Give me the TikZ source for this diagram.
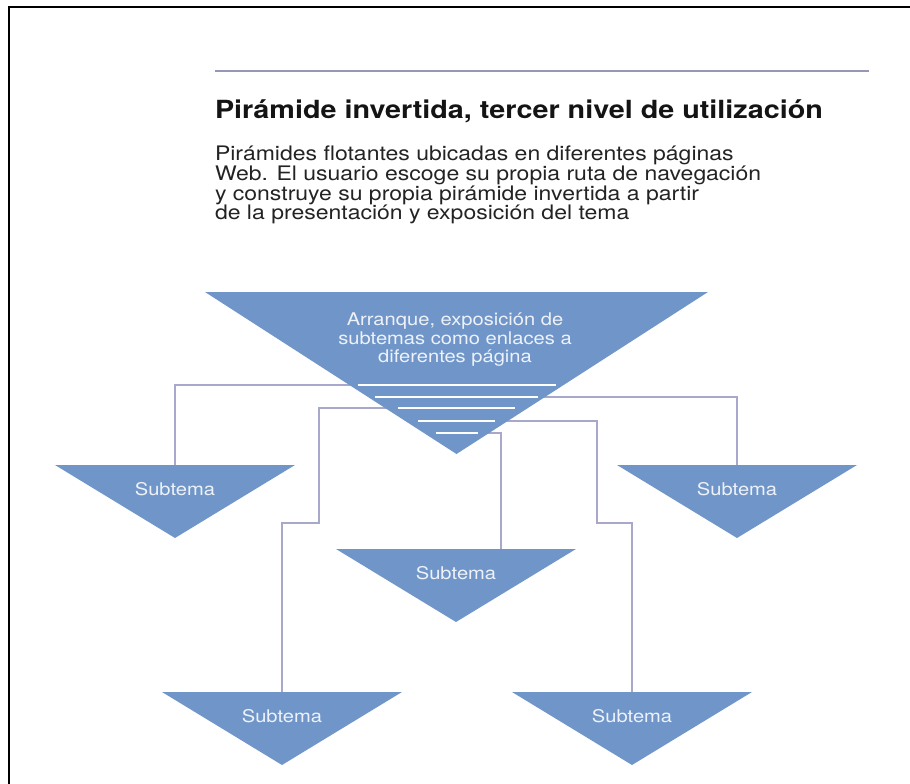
\documentclass[tikz,border=0pt]{standalone}
\usepackage{fontspec}
\setmainfont{TeX Gyre Heros}[FakeStretch=1.15]
\usetikzlibrary{positioning}
\definecolor{pyrblue}{RGB}{112,150,201}
\definecolor{linkgray}{RGB}{168,168,202}
\definecolor{rulegray}{RGB}{150,150,182}
\definecolor{paletext}{RGB}{238,242,248}
\definecolor{bodytext}{RGB}{35,35,35}
\pgfdeclarelayer{bg}
\pgfsetlayers{bg,main}

\begin{document}
\begin{tikzpicture}[x=1pt, y=-1pt,
    every node/.style={inner sep=0pt, outer sep=0pt},
    pyr/.style={minimum width=#1, path picture={
        \fill[pyrblue] (path picture bounding box.north west) -- (path picture bounding box.north east)
            -- (path picture bounding box.south) -- cycle;}},
    sub/.style={pyr=240pt, minimum height=73pt},
    lbl/.style={text=paletext, font=\fontsize{17.5}{18.5}\selectfont},
    link/.style={draw=linkgray, line width=1.5pt},
    stripe/.style={draw=white, line width=2pt},
    ]
\useasboundingbox (0,0) rectangle (910,784);
\draw[line width=2pt] (9,784) -- (9,7) -- (910,7);

% header
\draw[draw=rulegray, line width=2.5pt] (215,71) -- (869,71);
\node[anchor=base west, font=\fontsize{25}{28}\selectfont\bfseries, text=black!92] (title) at (215,118)
    {Pirámide invertida, tercer nivel de utilización};
\node[anchor=north west, align=left, text=bodytext, font=\fontsize{20}{17.5}\selectfont] (desc) at (215,145.5)
    {Pirámides flotantes ubicadas en diferentes páginas\\
     Web. El usuario escoge su propia ruta de navegación\\
     y construye su propia pirámide invertida a partir\\
     de la presentación y exposición del tema};

% main pyramid
\node[pyr=503pt, minimum height=162pt] (top) at (456.5,373) {};
\node[lbl, align=center] (toptext) at (455,340)
    {Arranque, exposición de\\subtemas como enlaces a\\diferentes página};
\coordinate (l1) at ([shift={(-99pt,-93pt)}]top.north);
\coordinate (r1) at ([shift={(99pt,-93pt)}]top.north);
\coordinate (l2) at ([shift={(-81.5pt,-105pt)}]top.north);
\coordinate (r2) at ([shift={(81.5pt,-105pt)}]top.north);
\coordinate (l3) at ([shift={(-58.5pt,-116pt)}]top.north);
\coordinate (r3) at ([shift={(58.5pt,-116pt)}]top.north);
\coordinate (l4) at ([shift={(-38.5pt,-129pt)}]top.north);
\coordinate (r4) at ([shift={(38.5pt,-129pt)}]top.north);
\coordinate (l5) at ([shift={(-21pt,-141pt)}]top.north);
\coordinate (r5) at ([shift={(21pt,-141pt)}]top.north);
\draw[stripe] (l1) -- (r1);
\draw[stripe] (l2) -- (r2);
\draw[stripe] (l3) -- (r3);
\draw[stripe] (l4) -- (r4);
\draw[stripe] (l5) -- (r5);

% subtopics
\node[sub] (s1) at (175,501.5) {};
\node[sub, right=322pt of s1] (s5) {};
\node[sub] (s3) at (456,585.5) {};
\node[sub] (s2) at (282,728.5) {};
\node[sub, right=110pt of s2] (s4) {};
\node[lbl, anchor=base] (t1) at ([yshift=-30.5pt]s1.north) {Subtema};
\node[lbl, anchor=base] (t2) at ([yshift=-30.5pt]s2.north) {Subtema};
\node[lbl, anchor=base] (t3) at ([yshift=-30.5pt]s3.north) {Subtema};
\node[lbl, anchor=base] (t4) at ([yshift=-30.5pt]s4.north) {Subtema};
\node[lbl, anchor=base] (t5) at ([yshift=-30.5pt]s5.north) {Subtema};

\coordinate (k2) at (319,523);
\coordinate (k4) at (597,523);
\begin{pgfonlayer}{bg}
\draw[link] (l1) -| (s1.north);
\draw[link] (r2) -| (s5.north);
\draw[link] (l3) -| (k2) -| (s2.north);
\draw[link] (r4) -| (k4) -| (s4.north);
\draw[link] (r5) -| ([xshift=45pt]s3.north);
\end{pgfonlayer}
\end{tikzpicture}
\end{document}
